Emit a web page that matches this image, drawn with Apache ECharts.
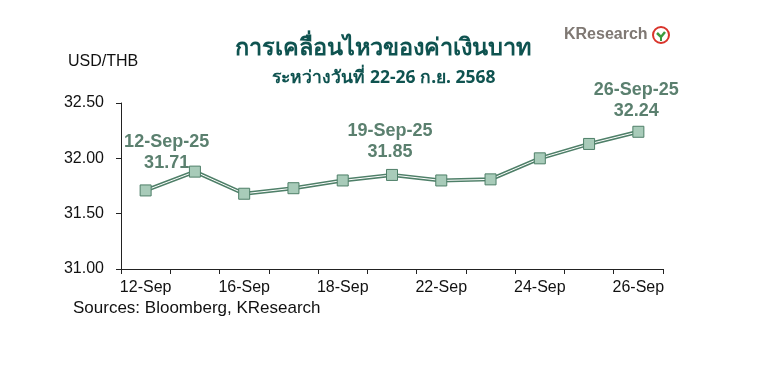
<!DOCTYPE html>
<html><head><meta charset="utf-8">
<script src="https://cdn.jsdelivr.net/npm/echarts@6/dist/echarts.min.js"></script>
<style>html,body{margin:0;padding:0;background:#fff}#c{width:758px;height:379px}</style>
</head><body><div id="c"></div>
<script>
const categories = ['12-Sep','15-Sep','16-Sep','17-Sep','18-Sep','19-Sep','22-Sep','23-Sep','24-Sep','25-Sep','26-Sep'];
const usdthb = [31.71, 31.88, 31.68, 31.73, 31.80, 31.85, 31.80, 31.81, 32.00, 32.13, 32.24];
const yTicks = [31.00, 31.50, 32.00, 32.50];
const callouts = [
  {index: 0, date: '12-Sep-25', offset: [21, -6]},
  {index: 5, date: '19-Sep-25', offset: [-2, -1]},
  {index: 10, date: '26-Sep-25', offset: [-2, 1]}
];
const font = '"Liberation Sans", Arial, sans-serif';
const labelColor = '#5b806f';
const dataItems = usdthb.map((v, i) => {
  const c = callouts.find(c => c.index === i);
  if (!c) return v;
  return {value: v, label: {show: true, formatter: c.date + '\n' + v.toFixed(2), offset: c.offset}};
});
const chart = echarts.init(document.getElementById('c'));
chart.setOption({
  backgroundColor: '#fff',
  animation: false,
  title: [
    {text: 'การเคลื่อนไหวของค่าเงินบาท', left: 378, top: 31, textAlign: 'center',
     textStyle: {fontFamily: '"Noto Sans", sans-serif', fontSize: 23.5, fontWeight: 'bold', color: '#0f5350'}},
    {text: 'ระหว่างวันที่ 22-26 ก.ย. 2568', left: 379, top: 64, textAlign: 'center',
     textStyle: {fontFamily: '"Noto Sans", sans-serif', fontSize: 17.5, fontWeight: 'bold', color: '#0f5350'}}
  ],
  graphic: [
    {type: 'text', left: 68, top: 54, style: {text: 'USD/THB', font: '16px ' + font, fill: '#111'}},
    {type: 'text', left: 73, top: 300, style: {text: 'Sources: Bloomberg, KResearch', font: '17px ' + font, fill: '#111'}},
    {type: 'text', left: 564, top: 27, style: {text: 'KResearch', font: 'bold 16px ' + font, fill: '#7f7873'}},
    {type: 'circle', shape: {cx: 661, cy: 35, r: 8}, style: {fill: '#fff', stroke: '#d9342b', lineWidth: 2}},
    {type: 'polyline', shape: {points: [[657, 33], [661, 37], [665, 32]]}, style: {stroke: '#3c9a3c', lineWidth: 2.5, fill: null}},
    {type: 'line', shape: {x1: 661, y1: 37, x2: 661, y2: 41}, style: {stroke: '#3c9a3c', lineWidth: 2}}
  ],
  grid: {left: 121, right: 95, top: 103, bottom: 110},
  xAxis: {
    type: 'category', data: categories, boundaryGap: true,
    axisLine: {lineStyle: {color: '#222', width: 1}},
    axisTick: {show: true, length: 5, interval: 0, lineStyle: {color: '#222'}},
    axisLabel: {interval: 1, fontFamily: font, fontSize: 16, color: '#111', margin: 11}
  },
  yAxis: {
    type: 'value', min: yTicks[0], max: yTicks[yTicks.length - 1], interval: 0.5,
    axisLine: {show: true, lineStyle: {color: '#222'}},
    axisTick: {show: true, length: 5, inside: false, lineStyle: {color: '#222'}},
    splitLine: {show: false},
    axisLabel: {formatter: v => v.toFixed(2), fontFamily: font, fontSize: 16, color: '#111', margin: 17}
  },
  series: [
    {type: 'line', data: usdthb, symbol: 'none', silent: true,
     lineStyle: {color: '#4e7f68', width: 4}, z: 2},
    {type: 'line', data: dataItems, symbol: 'rect', symbolSize: 11, silent: true,
     lineStyle: {color: '#ffffff', width: 1}, z: 3,
     itemStyle: {color: '#a8cbb9', borderColor: '#4e7f68', borderWidth: 1},
     label: {show: false, position: 'top', fontFamily: font, fontSize: 18, fontWeight: 'bold', color: labelColor, lineHeight: 21, align: 'center'}}
  ]
});
</script></body></html>
